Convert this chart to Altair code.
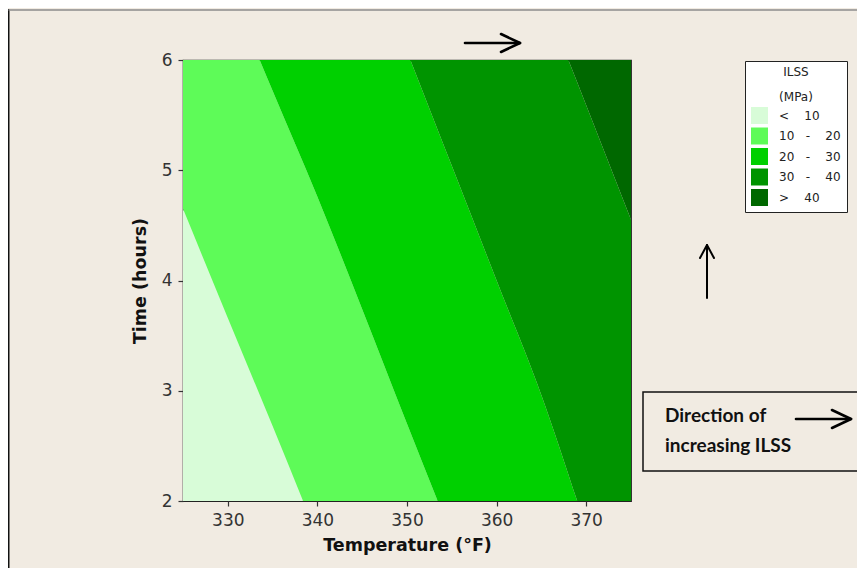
import json
import altair as alt
import pandas as pd

# ---------------- data ----------------
TEMPS = [325, 330, 335, 340, 345, 350, 355, 360, 365, 370, 375]          # °F
# time (hours) at which each ILSS contour crosses the temperature above
T10 = [4.65, 3.66, 2.68, 1.68, 0.69, -0.3, -1.3, -2.3, -3.3, -4.3, -5.3]
T20 = [7.71, 6.70, 5.72, 4.76, 3.74, 2.70, 1.68, 0.67, -0.3, -1.3, -2.3]
T30 = [11.5, 10.4, 9.3, 8.2, 7.15, 6.08, 5.04, 4.0, 2.96, 1.76, 0.6]
T40 = [14.9, 13.8, 12.8, 11.8, 10.7, 9.7, 8.69, 7.66, 6.62, 5.59, 4.55]
LEVELS = ["< 10", "10 - 20", "20 - 30", "30 - 40", "> 40"]
COLORS = ["#d8fcd8", "#5efb58", "#00d000", "#009400", "#006800"]
X_TICKS = [330, 340, 350, 360, 370]
Y_TICKS = [2, 3, 4, 5, 6]
X_DOMAIN = [325, 375]
Y_DOMAIN = [2, 6]
NB = "\u00a0"
LEGEND_LABELS = [NB * 6 + "<" + NB * 4 + "10",
                 "10" + NB * 3 + "-" + NB * 4 + "20",
                 "20" + NB * 3 + "-" + NB * 4 + "30",
                 "30" + NB * 3 + "-" + NB * 4 + "40",
                 NB * 6 + ">" + NB * 4 + "40"]
NOTE_LINES = ["Direction of", "increasing ILSS"]

# ---------------- band table (each band between two contours) ----------------
n = len(TEMPS)
bounds = [[Y_DOMAIN[0]] * n, T10, T20, T30, T40, [Y_DOMAIN[1]] * n]
rows = []
for i, lev in enumerate(LEVELS):
    for j, temp in enumerate(TEMPS):
        rows.append({"temp": temp, "lo": bounds[i][j], "hi": bounds[i + 1][j], "level": lev})
bands = pd.DataFrame(rows)

label_map = json.dumps(dict(zip(LEVELS, LEGEND_LABELS)))

W, H = 448, 441
PAD = {"left": 175, "top": 52, "right": 226, "bottom": 67}

contour = alt.Chart(bands).mark_area(clip=True, interpolate="monotone").encode(
    x=alt.X("temp:Q", scale=alt.Scale(domain=X_DOMAIN, nice=False, zero=False),
            axis=alt.Axis(values=X_TICKS, title="Temperature (°F)", format="d")),
    y=alt.Y("lo:Q", stack=None, scale=alt.Scale(domain=Y_DOMAIN, nice=False, zero=False),
            axis=alt.Axis(values=Y_TICKS, title="Time (hours)", format="d")),
    y2="hi:Q",
    color=alt.Color("level:N", scale=alt.Scale(domain=LEVELS, range=COLORS),
                    legend=alt.Legend(
                        title=["ILSS", "(MPa)"], orient="none",
                        legendX=562, legendY=1,
                        symbolType="square", symbolSize=289, symbolStrokeWidth=0,
                        symbolOpacity=1,
                        labelExpr=f"{label_map}[datum.label]",
                        labelFont="DejaVu Sans", labelFontSize=12, labelColor="#222222",
                        titleFont="DejaVu Sans", titleFontSize=12, titleFontWeight="normal",
                        titleColor="#222222", titleAnchor="middle", titleLineHeight=25,
                        titlePadding=3, rowPadding=3.5, labelOffset=11,
                        padding=6, strokeColor="#222222", fillColor="#ffffff",
                        cornerRadius=0)),
    detail="level:N",
)

one = pd.DataFrame({"k": [0]})


def seg(x1, y1, x2, y2, w=2.6, color="#000000"):
    return alt.Chart(one).mark_rule(strokeWidth=w, color=color, strokeCap="round").encode(
        x=alt.value(x1), y=alt.value(y1), x2=alt.value(x2), y2=alt.value(y2))


layers = [contour]

# outer frame
layers.append(seg(-174.5, -50, -174.5, 508, w=2, color="#111111"))
layers.append(seg(-174, -50, 700, -50, w=1.5, color="#8c8c8c"))

# top arrow (temperature direction)
layers += [seg(282, -17, 336, -17), seg(318, -26, 337, -17), seg(318, -8, 337, -17)]
# upward arrow (time direction)
layers += [seg(524, 238, 524, 186, w=2), seg(517, 198, 524, 185, w=2), seg(531, 198, 524, 185, w=2)]

# note box
box = alt.Chart(one).mark_rect(fill="#f1ebe2", stroke="#111111", strokeWidth=1.5).encode(
    x=alt.value(460), x2=alt.value(720), y=alt.value(332), y2=alt.value(411))
layers.append(box)
for k, line in enumerate(NOTE_LINES):
    layers.append(alt.Chart(one).mark_text(
        text=line, align="left", baseline="middle", font="Lato", fontWeight="bold",
        fontSize=19, color="#111111").encode(x=alt.value(482), y=alt.value(356 + 30 * k)))
layers += [seg(613, 359, 667, 359), seg(649, 350, 668, 359), seg(649, 368, 668, 359)]

chart = alt.layer(*layers).properties(
    width=W, height=H, padding=PAD, autosize=alt.AutoSizeParams(type="none"),
    background="#f1ebe2",
).configure_view(stroke="#222222", strokeWidth=1.2, fill="#f1ebe2").configure_axis(
    grid=False, domain=False, tickSize=5, tickColor="#333333", tickWidth=1.2,
    labelFont="DejaVu Sans", labelFontSize=17, labelColor="#333333", labelPadding=6,
    titleFont="DejaVu Sans", titleFontSize=17.5, titleFontWeight="bold", titleColor="#111111",
).configure_axisX(titlePadding=8).configure_axisY(titlePadding=12)

chart.save("out.html", embed_options={"renderer": "svg", "actions": False})
